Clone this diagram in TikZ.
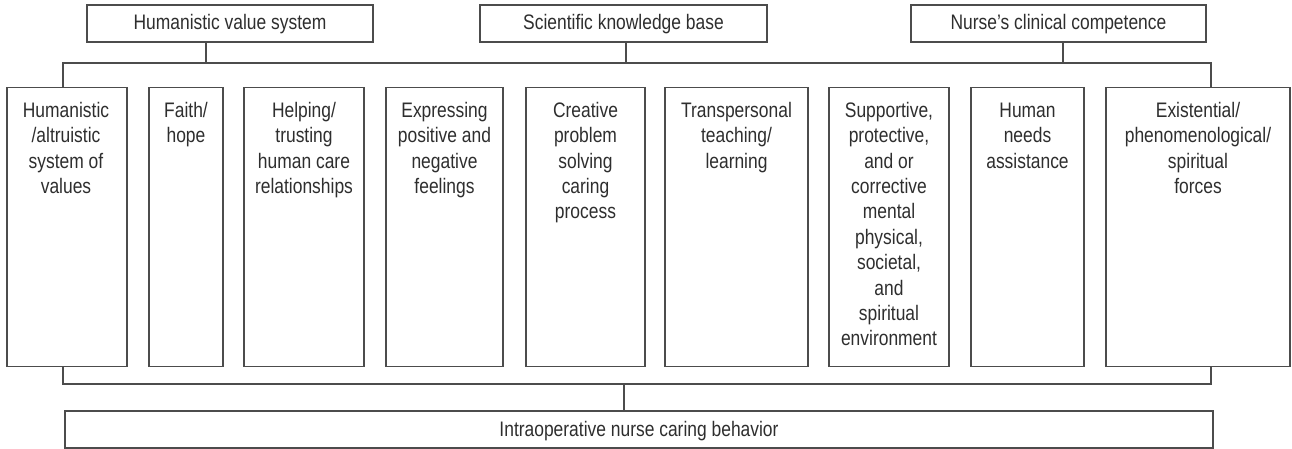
\documentclass[tikz,border=0pt]{standalone}
\usepackage{fontspec}
\setmainfont[FakeStretch=0.83]{Liberation Sans}
\newcommand{\fl}{\rule{0pt}{17pt}}
\begin{document}
\begin{tikzpicture}[x=1pt,y=-1pt,
  box/.style={draw=black!70, line width=1.1pt, inner sep=0pt},
  conn/.style={draw=black!70, line width=1.1pt},
  lab/.style={text=black!82, font=\fontsize{21}{25.4}\selectfont, align=center, inner sep=0pt},
  topbox/.style={box, lab, minimum height=37pt, text height=14pt, text depth=1pt},
  col/.style={box, minimum height=279pt, anchor=north}]
\useasboundingbox (0,0) rectangle (1292,449);

% top boxes
\node[topbox, minimum width=286pt] (hv) at (230,23.5) {Humanistic value system};
\node[topbox, minimum width=287pt] (sk) at (623.5,23.5) {Scientific knowledge base};
\node[topbox, minimum width=295pt] (nc) at (1058.5,23.5) {Nurse's clinical competence};

% columns
\node[col, minimum width=120pt] (c1) at (67,87) {};
\node[col, minimum width=74pt]  (c2) at (186,87) {};
\node[col, minimum width=120pt] (c3) at (304,87) {};
\node[col, minimum width=117pt] (c4) at (444.5,87) {};
\node[col, minimum width=119pt] (c5) at (585.5,87) {};
\node[col, minimum width=143pt] (c6) at (736.5,87) {};
\node[col, minimum width=120pt] (c7) at (889,87) {};
\node[col, minimum width=113pt] (c8) at (1027.5,87) {};
\node[col, minimum width=184pt] (c9) at (1198,87) {};

% column texts
\node[lab, anchor=north] (t1) at (66,100) {\fl Humanistic\\/altruistic\\system of\\values};
\node[lab, anchor=north] (t2) at (186,100) {\fl Faith/\\hope};
\node[lab, anchor=north] (t3) at (304,100) {\fl Helping/\\trusting\\human care\\relationships};
\node[lab, anchor=north] (t4) at (444.5,100) {\fl Expressing\\positive and\\negative\\feelings};
\node[lab, anchor=north] (t5) at (585.5,100) {\fl Creative\\problem\\solving\\caring\\process};
\node[lab, anchor=north] (t6) at (736.5,100) {\fl Transpersonal\\teaching/\\learning};
\node[lab, anchor=north] (t7) at (889,100) {\fl Supportive,\\protective,\\and or\\corrective\\mental\\physical,\\societal,\\and\\spiritual\\environment};
\node[lab, anchor=north] (t8) at (1027.5,100) {\fl Human\\needs\\assistance};
\node[lab, anchor=north] (t9) at (1198,100) {\fl Existential/\\phenomenological/\\spiritual\\forces};

% bottom box
\node[topbox, minimum width=1148pt] (bot) at (639,429.5) {Intraoperative nurse caring behavior};

% upper bus
\coordinate (busL) at (63,63);
\coordinate (busR) at (1211,63);
\coordinate (j1) at (206,63);
\coordinate (j2) at (626,63);
\coordinate (j3) at (1063,63);
\draw[conn] (busL |- c1.north) -- (busL) -- (busR) -- (busR |- c9.north);
\draw[conn] (j1) -- (j1 |- hv.south);
\draw[conn] (j2) -- (j2 |- sk.south);
\draw[conn] (j3) -- (j3 |- nc.south);

% lower bus
\coordinate (bL) at (63,384);
\coordinate (bR) at (1211,384);
\coordinate (j4) at (624,384);
\draw[conn] (bL |- c1.south) -- (bL) -- (bR) -- (bR |- c9.south);
\draw[conn] (j4) -- (j4 |- bot.north);
\end{tikzpicture}
\end{document}
